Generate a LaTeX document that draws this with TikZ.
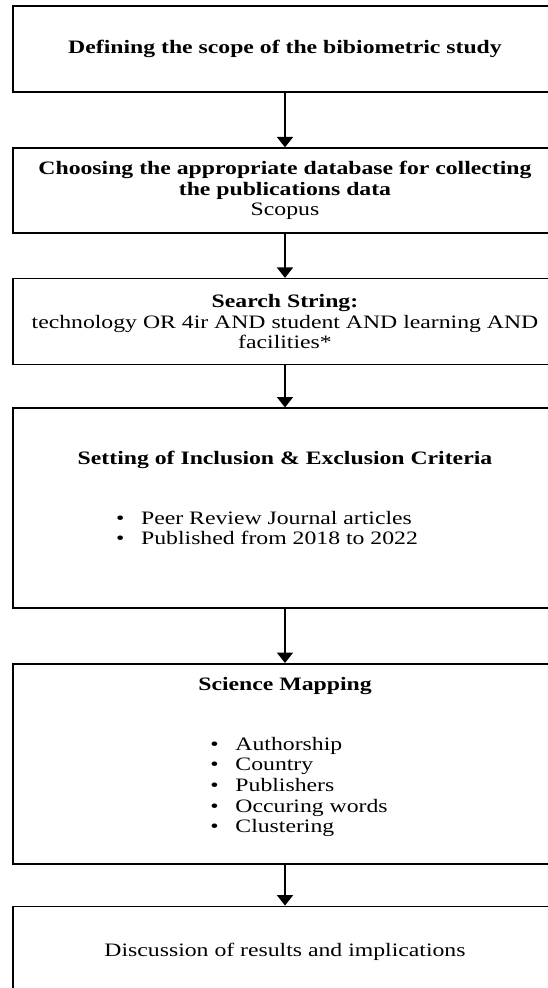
\documentclass[tikz,border=0pt]{standalone}
\usepackage{fontspec}
\setmainfont[FakeStretch=1.25]{Liberation Serif}
\usetikzlibrary{positioning,arrows.meta}

\newcommand{\bulletlist}[1]{%
  \begin{tabular}[t]{@{}l@{\hspace{4.2mm}}l@{}}#1\end{tabular}}

\begin{document}
\begin{tikzpicture}[
    box/.style={draw, line width=1.1pt, minimum width=136.1mm, align=center,
      inner sep=0pt, font=\fontsize{13.5}{14.6}\selectfont},
    flow/.style={-{Triangle[length=2.6mm,width=4mm]}, line width=1.1pt}]
  \useasboundingbox (0,0) rectangle (136.75mm,-247mm);

  % steps, top to bottom
  \node [box, minimum height=21.6mm, anchor=north] (s1) at (71.25mm,-1.25mm)
    {\textbf{Defining the scope of the bibiometric study}};
  \node [box, minimum height=21.25mm, below=13.6mm of s1] (s2)
    {\textbf{Choosing the appropriate database for collecting}\\
     \textbf{the publications data}\\
     Scopus};
  \node [box, minimum height=21.5mm, below=11mm of s2] (s3)
    {\textbf{Search String:}\\
     technology OR 4ir AND student AND learning AND\\
     facilities*};
  \node [box, minimum height=50mm, below=10.5mm of s3] (s4)
    {\textbf{Setting of Inclusion \& Exclusion Criteria}\\[28pt]
     \hspace*{-9mm}\bulletlist{\textbullet & Peer Review Journal articles\\
                 \textbullet & Published from 2018 to 2022}\\[3.4mm]
     \mbox{}};
  \node [box, minimum height=50mm, below=13.5mm of s4] (s5)
    {\textbf{Science Mapping}\\[28pt]
     \hspace*{7mm}\bulletlist{\textbullet & Authorship\\
                 \textbullet & Country\\
                 \textbullet & Publishers\\
                 \textbullet & Occuring words\\
                 \textbullet & Clustering}\\[2.5mm]
     \mbox{}};
  \node [box, minimum height=23mm, below=10.25mm of s5] (s6)
    {\raisebox{1.5mm}{Discussion of results and implications}};

  \foreach \a/\b in {s1/s2, s2/s3, s3/s4, s4/s5, s5/s6}
    \draw [flow] (\a) -- (\b);
\end{tikzpicture}
\end{document}
